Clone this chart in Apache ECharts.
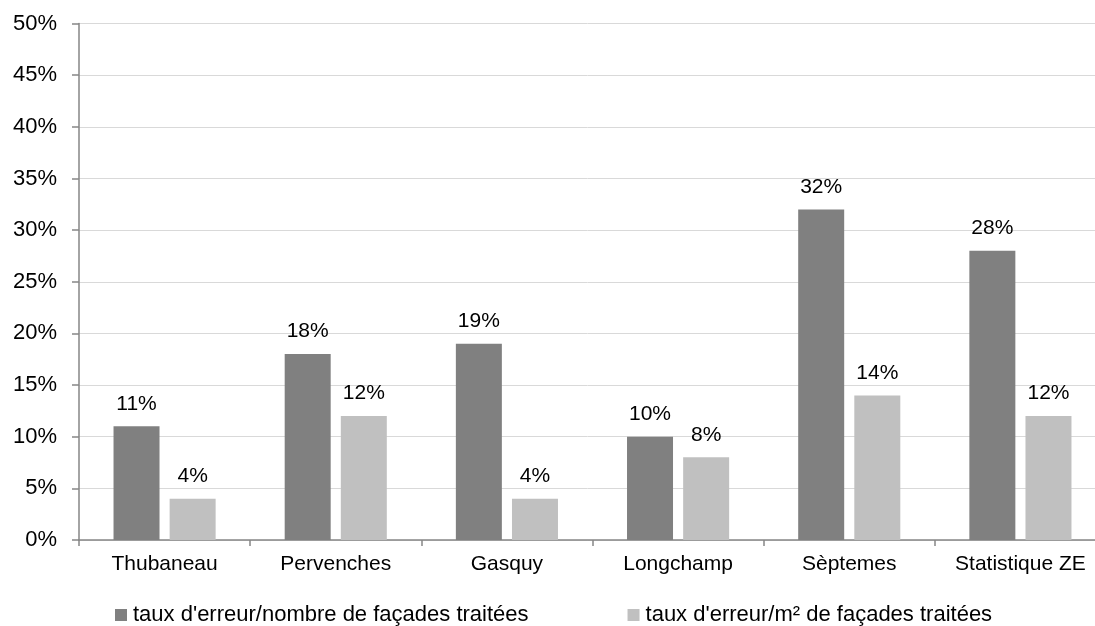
<!DOCTYPE html>
<html><head><meta charset="utf-8">
<script src="https://cdn.jsdelivr.net/npm/echarts@6/dist/echarts.min.js"></script>
<style>html,body{margin:0;padding:0;background:#fff}#c{width:1095px;height:626px}</style>
</head><body><div id="c"></div>
<script>
const categories = ["Thubaneau", "Pervenches", "Gasquy", "Longchamp", "Sèptemes", "Statistique ZE"];
const seriesNames = ["taux d'erreur/nombre de façades traitées", "taux d'erreur/m² de façades traitées"];
const valuesCount = [11, 18, 19, 10, 32, 28];
const valuesArea = [4, 12, 4, 8, 14, 12];

const chart = echarts.init(document.getElementById('c'), null, {renderer: 'canvas'});
const font = 'Liberation Sans, Arial, sans-serif';
const lbl = {show: true, position: 'top', distance: 12, formatter: p => p.value + '%', color: '#000', fontSize: 21, fontFamily: font};
chart.setOption({
  animation: false,
  textStyle: {fontFamily: font},
  grid: {left: 79, width: 1027, top: 23.5, bottom: 86, containLabel: false, outerBoundsMode: 'none'},
  legend: {
    top: 599, left: 110, itemWidth: 12, itemHeight: 12, itemGap: 99, icon: 'rect',
    textStyle: {fontSize: 22, color: '#000', fontFamily: font, padding: [0, 0, 0, 1]},
    data: seriesNames
  },
  xAxis: {
    type: 'category', data: categories,
    axisLine: {lineStyle: {color: '#868686', width: 1.5}},
    axisTick: {show: true, length: 6, lineStyle: {color: '#868686', width: 1.5}},
    axisLabel: {color: '#000', fontSize: 21, margin: 14, fontFamily: font, interval: 0}
  },
  yAxis: {
    type: 'value', min: 0, max: 50, interval: 5,
    axisLine: {show: true, lineStyle: {color: '#868686', width: 1.5}},
    axisTick: {show: true, length: 7, lineStyle: {color: '#868686', width: 1.5}},
    axisLabel: {color: '#000', fontSize: 22, margin: 22, formatter: '{value}%', fontFamily: font},
    splitLine: {lineStyle: {color: '#d9d9d9', width: 1}}
  },
  series: [
    {name: seriesNames[0], type: 'bar', data: valuesCount, barWidth: 46, barGap: '22%', itemStyle: {color: '#808080'}, label: lbl},
    {name: seriesNames[1], type: 'bar', data: valuesArea, barWidth: 46, itemStyle: {color: '#c0c0c0'}, label: lbl}
  ]
});
</script></body></html>
